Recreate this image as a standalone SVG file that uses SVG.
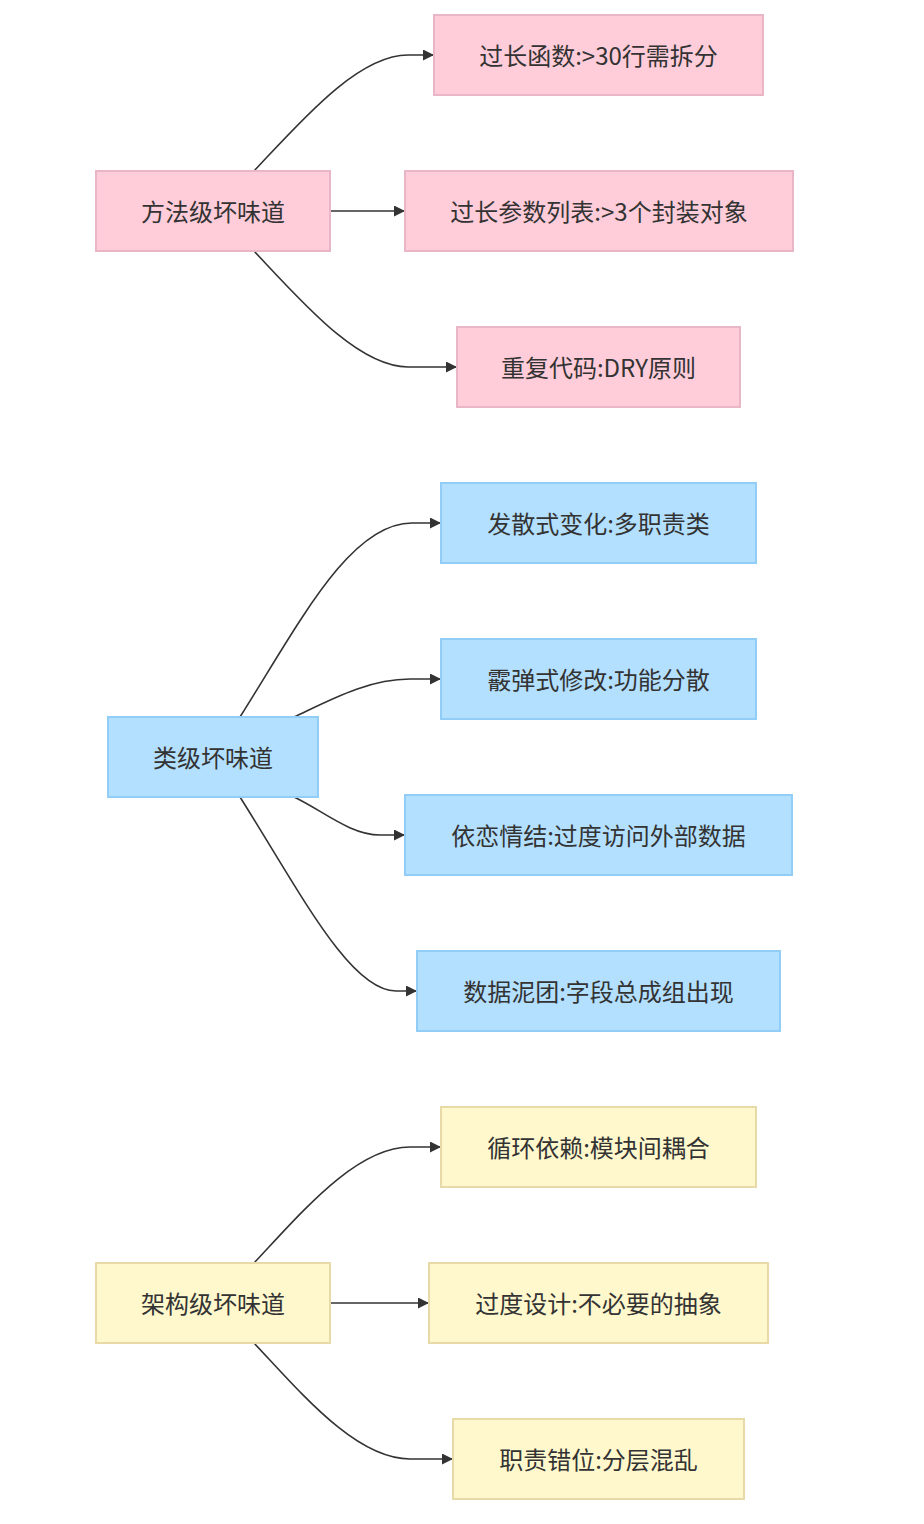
<svg xmlns="http://www.w3.org/2000/svg" width="924" height="1524" viewBox="0 0 924 1524">
<defs>
<style>
.lbl{font-family:"Noto Sans CJK SC","Noto Sans",sans-serif;font-size:24px;fill:#333;text-anchor:middle;dominant-baseline:central}
.pink rect{fill:#ffcdd9;stroke:#e8b6c6;stroke-width:2}
.blue rect{fill:#b3e0ff;stroke:#92cdf7;stroke-width:2}
.yellow rect{fill:#fff8cd;stroke:#e8d9a8;stroke-width:2}
.edge{fill:none;stroke:#333;stroke-width:1.6;marker-end:url(#arr)}
</style>
<marker id="arr" viewBox="0 0 10 10" refX="10" refY="5" markerWidth="11" markerHeight="11" markerUnits="userSpaceOnUse" orient="auto">
<path d="M0,0 L10,5 L0,10 z" fill="#333"/>
</marker>
</defs>
<rect width="924" height="1524" fill="#fff"/>
<g id="connectors">
<path class="edge" d="M254,171 C302,120 358,55 408,55 L434,55"/>
<path class="edge" d="M330,211 L405,211"/>
<path class="edge" d="M254,251 C302,302 358,367 408,367 L457,367"/>
<path class="edge" d="M240,717 C300,622 350,523 412,523 L441,523"/>
<path class="edge" d="M294,717 C330,700 368,679 410,679 L441,679"/>
<path class="edge" d="M294,797 C322,810 350,835 380,835 L405,835"/>
<path class="edge" d="M240,797 C300,892 350,991 396,991 L417,991"/>
<path class="edge" d="M254,1263 C302,1212 356,1147 410,1147 L441,1147"/>
<path class="edge" d="M330,1303 L429,1303"/>
<path class="edge" d="M254,1343 C302,1394 356,1459 410,1459 L453,1459"/>
</g>
<g id="method" class="pink"><rect x="96" y="171" width="234" height="80"/><text class="lbl" x="213" y="210">方法级坏味道</text></g>
<g id="m1" class="pink"><rect x="434" y="15" width="329" height="80"/><text class="lbl" x="598.5" y="54">过长函数:&gt;30行需拆分</text></g>
<g id="m2" class="pink"><rect x="405" y="171" width="388" height="80"/><text class="lbl" x="599" y="210">过长参数列表:&gt;3个封装对象</text></g>
<g id="m3" class="pink"><rect x="457" y="327" width="283" height="80"/><text class="lbl" x="598.5" y="366">重复代码:DRY原则</text></g>
<g id="class" class="blue"><rect x="108" y="717" width="210" height="80"/><text class="lbl" x="213" y="756">类级坏味道</text></g>
<g id="c1" class="blue"><rect x="441" y="483" width="315" height="80"/><text class="lbl" x="598.5" y="522">发散式变化:多职责类</text></g>
<g id="c2" class="blue"><rect x="441" y="639" width="315" height="80"/><text class="lbl" x="598.5" y="678">霰弹式修改:功能分散</text></g>
<g id="c3" class="blue"><rect x="405" y="795" width="387" height="80"/><text class="lbl" x="598.5" y="834">依恋情结:过度访问外部数据</text></g>
<g id="c4" class="blue"><rect x="417" y="951" width="363" height="80"/><text class="lbl" x="598.5" y="990">数据泥团:字段总成组出现</text></g>
<g id="arch" class="yellow"><rect x="96" y="1263" width="234" height="80"/><text class="lbl" x="213" y="1302">架构级坏味道</text></g>
<g id="a1" class="yellow"><rect x="441" y="1107" width="315" height="80"/><text class="lbl" x="598.5" y="1146">循环依赖:模块间耦合</text></g>
<g id="a2" class="yellow"><rect x="429" y="1263" width="339" height="80"/><text class="lbl" x="598.5" y="1302">过度设计:不必要的抽象</text></g>
<g id="a3" class="yellow"><rect x="453" y="1419" width="291" height="80"/><text class="lbl" x="598.5" y="1458">职责错位:分层混乱</text></g>
</svg>
